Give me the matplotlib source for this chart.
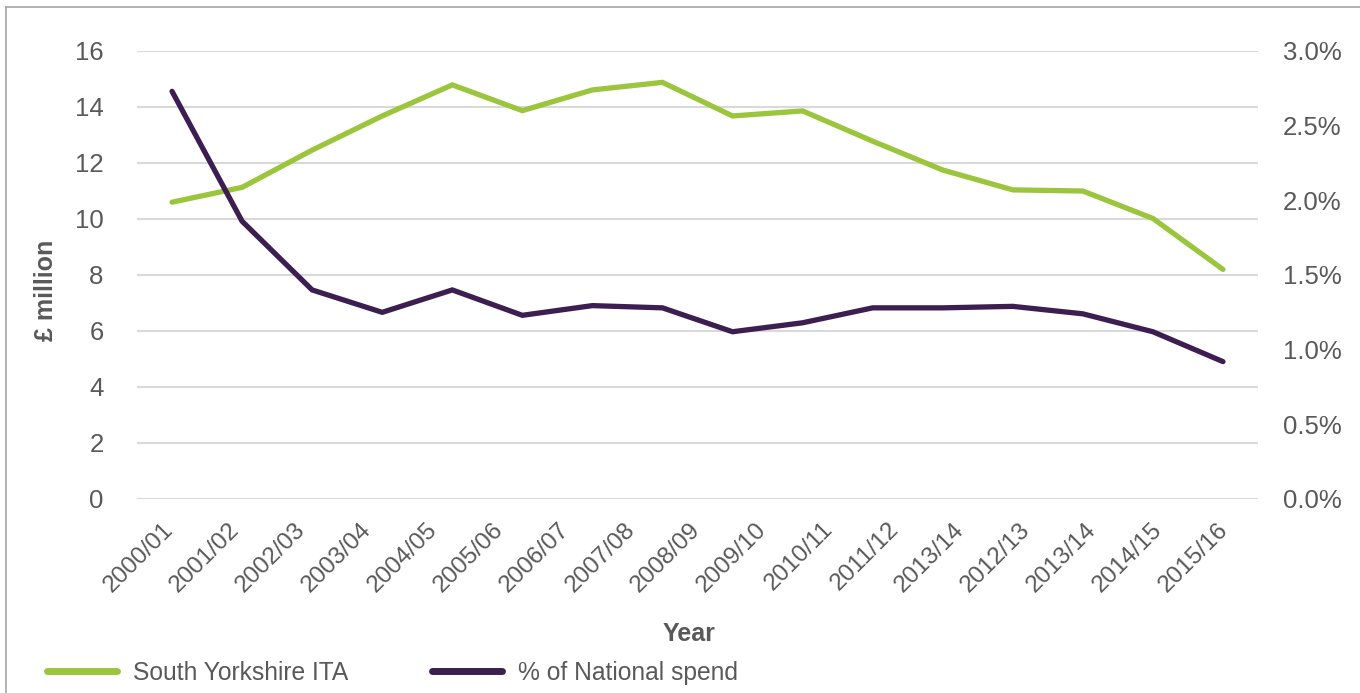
import numpy as np
import matplotlib.pyplot as plt
from matplotlib.lines import Line2D
from matplotlib.ticker import FuncFormatter

# category labels on the x axis (as published, 17 labels)
years = ['2000/01', '2001/02', '2002/03', '2003/04', '2004/05', '2005/06',
         '2006/07', '2007/08', '2008/09', '2009/10', '2010/11', '2011/12',
         '2013/14', '2012/13', '2013/14', '2014/15', '2015/16']

# South Yorkshire ITA spend, £ million
ita_spend = [10.6, 11.13, 12.46, 13.68, 14.79, 13.87, 14.61, 14.88,
             13.68, 13.86, 12.78, 11.75, 11.04, 11.0, 10.02, 8.2]

# share of national spend, %
national_share = [2.73, 1.86, 1.40, 1.25, 1.40, 1.23, 1.295, 1.28,
                  1.12, 1.18, 1.28, 1.28, 1.29, 1.24, 1.12, 0.92]

green = '#9BC53D'
purple = '#3D1E50'
grey_text = '#595959'
grid_col = '#D9D9D9'

plt.rcParams['font.family'] = ['Liberation Sans', 'DejaVu Sans']

fig = plt.figure(figsize=(13.6, 6.93), dpi=100)
ax = fig.add_axes([137 / 1360, 1 - 499 / 693, 1121 / 1360, 448 / 693])
ax2 = ax.twinx()

x = np.arange(len(ita_spend))
ax.plot(x, ita_spend, color=green, lw=3.8, solid_capstyle='round',
        solid_joinstyle='miter', label='South Yorkshire ITA', zorder=3)
ax2.plot(x, national_share, color=purple, lw=3.8, solid_capstyle='round',
         solid_joinstyle='miter', label='% of National spend', zorder=3)

ax.set_xlim(-0.5, len(ita_spend) - 0.5)
ax.set_ylim(0, 16)
ax.set_yticks(range(0, 17, 2))
ax2.set_ylim(0, 3)
ax2.set_yticks(np.arange(0, 3.01, 0.5))
ax2.yaxis.set_major_formatter(FuncFormatter(lambda v, p: f'{v:.1f}%'))

ax.grid(axis='y', color=grid_col, lw=1.5)
ax.set_axisbelow(True)
for a in (ax, ax2):
    for s in a.spines.values():
        s.set_visible(False)
    a.tick_params(length=0, colors=grey_text, labelsize=18.5)
ax.tick_params(axis='y', pad=24)
ax2.tick_params(axis='y', pad=18)

# 17 labels spread evenly across the axis width, nudged left a little
span = len(ita_spend)
label_pos = (np.arange(len(years)) + 0.5) * span / len(years) - 0.5 - 0.115
ax.set_xticks(label_pos)
ax.set_xticklabels(years, rotation=45, ha='right', va='top',
                   rotation_mode='anchor', fontsize=17.5)
ax.tick_params(axis='x', pad=14)

ax.set_ylabel('£ million', fontsize=18, fontweight='bold', color=grey_text)
ax.yaxis.set_label_coords((58 - 137) / 1121, (499 - 290) / 448)
fig.text(689 / 1360, 1 - 634 / 693, 'Year', fontsize=18, fontweight='bold',
         color=grey_text, ha='center', va='center')

handles = [Line2D([], [], color=green, lw=5, solid_capstyle='round'),
           Line2D([], [], color=purple, lw=5, solid_capstyle='round')]
leg = fig.legend(handles, ['South Yorkshire ITA', '% of National spend'],
                 loc='center left', bbox_to_anchor=(47 / 1360, 1 - 673 / 693),
                 ncol=2, frameon=False, fontsize=17.7, handlelength=2.85,
                 handletextpad=0.65, columnspacing=3.4, borderpad=0,
                 borderaxespad=0)
for t in leg.get_texts():
    t.set_color(grey_text)

# thin frame round the figure
frame_kw = dict(color='#A6A6A6', lw=1.2, transform=fig.transFigure)
fig.add_artist(Line2D([6 / 1360, 6 / 1360], [0, 1 - 7 / 693], **frame_kw))
fig.add_artist(Line2D([6 / 1360, 1], [1 - 7 / 693, 1 - 7 / 693], **frame_kw))

fig.savefig('out.png', dpi=100)
